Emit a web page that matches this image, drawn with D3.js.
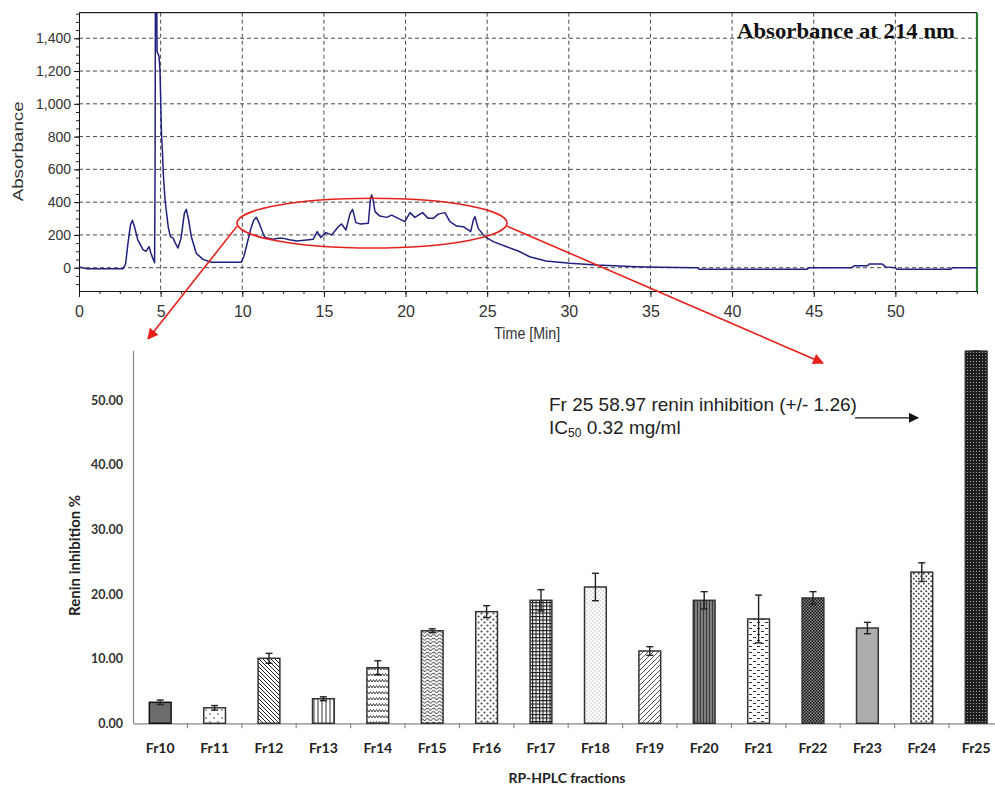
<!DOCTYPE html>
<html>
<head>
<meta charset="utf-8">
<script src="https://cdn.jsdelivr.net/npm/d3@7"></script>
<style>
  html, body { margin: 0; padding: 0; background: #fff; }
  svg { display: block; }
</style>
</head>
<body>
<div id="chart"></div>
<script>
// RP-HPLC chromatogram (absorbance at 214 nm)
const chromTime = [0, 0.5, 2.7, 2.85, 3.0, 3.15, 3.27, 3.4, 3.6, 3.92, 4.1, 4.29, 4.4, 4.55, 4.63, 4.66, 4.68, 4.76,
  4.78, 4.9, 4.96, 5.05, 5.12, 5.16, 5.27, 5.47, 5.6, 5.76, 5.9, 6.06, 6.25, 6.45, 6.57, 6.7, 6.88, 7.18, 7.59, 8.1,
  9.94, 10.1, 10.25, 10.5, 10.7, 10.86, 11.0, 11.27, 11.39, 11.68, 11.9, 12.2, 12.51, 12.9, 13.33, 13.94, 14.34,
  14.59, 14.8, 15.12, 15.47, 15.88, 16.08, 16.35, 16.6, 16.76, 16.96, 17.25, 17.72, 17.85, 17.92, 18.0, 18.13,
  18.43, 18.84, 19.15, 19.55, 19.96, 20.27, 20.57, 21.04, 21.39, 21.7, 22.0, 22.41, 22.72, 23.13, 23.54, 23.99,
  24.15, 24.25, 24.45, 24.86, 25.37, 26.19, 26.9, 27.6, 28.6, 30.07, 31.7, 34.15, 35.6, 37.9, 38.0, 44.6, 44.7,
  47.3, 47.5, 48.3, 48.4, 49.2, 49.4, 50.0, 50.1, 53.4, 53.5, 55];
const chromAbs = [5, -6, -6, 20, 150, 260, 290, 250, 170, 110, 100, 128, 90, 50, 30, 600, 1620, 1620,
  1320, 1290, 1206, 820, 690, 576, 413, 245, 190, 181, 150, 120, 180, 330, 356, 300, 189, 88, 51, 33,
  33, 70, 128, 230, 290, 307, 280, 210, 185, 178, 173, 180, 179, 170, 163, 169, 173,
  220, 185, 214, 200, 250, 267, 230, 330, 356, 275, 267, 271, 420, 444, 420, 342,
  315, 307, 321, 301, 281, 336, 307, 336, 301, 301, 327, 336, 281, 254, 250, 220,
  290, 311, 240, 189, 159, 128, 102, 67, 41, 27, 16, 6, 2, 0, -10, -10, 0,
  0, 12, 12, 22, 22, 5, 0, -10, -10, 0, 0];
const timeTicks = [0, 5, 10, 15, 20, 25, 30, 35, 40, 45, 50];
const absTicks = [0, 200, 400, 600, 800, 1000, 1200, 1400];

// Renin inhibition of the fractions
const fractions = ['Fr10', 'Fr11', 'Fr12', 'Fr13', 'Fr14', 'Fr15', 'Fr16', 'Fr17',
  'Fr18', 'Fr19', 'Fr20', 'Fr21', 'Fr22', 'Fr23', 'Fr24', 'Fr25'];
const inhibition = [3.25, 2.4, 10.06, 3.8, 8.6, 14.33, 17.28, 19.04, 21.1, 11.19, 19.04, 16.15, 19.4, 14.75, 23.4, 58.97];
const inhibitionErr = [0.35, 0.35, 0.77, 0.3, 1.08, 0.3, 0.93, 1.65, 2.12, 0.67, 1.34, 3.7, 0.98, 0.88, 1.45, 1.26];
const inhibitionTicks = [0, 10, 20, 30, 40, 50];

const W = 995, H = 787;
const svg = d3.select('#chart').append('svg').attr('width', W).attr('height', H);
const defs = svg.append('defs');

// ---------- top chart: chromatogram ----------
const boxT = { left: 79, right: 977, top: 12.7, bottom: 291 };
const xT = d3.scaleLinear().domain([0, 55]).range([boxT.left, boxT.right]);
const yT = d3.scaleLinear().domain([-142.2, 1556]).range([boxT.bottom, boxT.top]);

defs.append('clipPath').attr('id', 'clip-top').append('rect')
  .attr('x', boxT.left).attr('y', boxT.top)
  .attr('width', boxT.right - boxT.left).attr('height', boxT.bottom - boxT.top);

const gTop = svg.append('g');
const grid = gTop.append('g').attr('stroke', '#4a4a4a').attr('stroke-dasharray', '4,3').attr('stroke-width', 1);
grid.selectAll('line.h').data(absTicks).join('line').attr('class', 'h')
  .attr('x1', boxT.left).attr('x2', boxT.right)
  .attr('y1', d => yT(d)).attr('y2', d => yT(d));
grid.selectAll('line.v').data(timeTicks.filter(d => d > 0)).join('line').attr('class', 'v')
  .attr('x1', d => xT(d)).attr('x2', d => xT(d))
  .attr('y1', boxT.top).attr('y2', boxT.bottom);

const tickFont = 'Arial, "Liberation Sans", sans-serif';

// minor ticks
gTop.append('g').attr('transform', `translate(${boxT.left},0)`)
  .call(d3.axisLeft(yT).tickValues(d3.range(-100, 1551, 50)).tickSize(3).tickFormat(''))
  .call(g => g.select('.domain').remove())
  .selectAll('line').attr('stroke', '#222');
gTop.append('g').attr('transform', `translate(0,${boxT.bottom})`)
  .call(d3.axisBottom(xT).tickValues(d3.range(0, 55.01, 1.25)).tickSize(3).tickFormat(''))
  .call(g => g.select('.domain').remove())
  .selectAll('line').attr('stroke', '#222');

const yAxisTop = gTop.append('g').attr('transform', `translate(${boxT.left},0)`)
  .call(d3.axisLeft(yT).tickValues(absTicks).tickSize(5).tickPadding(3).tickFormat(d3.format(',')).tickSizeOuter(0));
yAxisTop.selectAll('text').attr('font-family', tickFont).attr('font-size', 14).attr('fill', '#333');
yAxisTop.selectAll('line, path').attr('stroke', '#111');

const xAxisTop = gTop.append('g').attr('transform', `translate(0,${boxT.bottom})`)
  .call(d3.axisBottom(xT).tickValues(timeTicks).tickSize(6).tickPadding(9).tickSizeOuter(0));
xAxisTop.selectAll('text').attr('font-family', tickFont).attr('font-size', 16).attr('fill', '#333');
xAxisTop.selectAll('line, path').attr('stroke', '#111');

// frame
gTop.append('line').attr('x1', boxT.left).attr('x2', boxT.right).attr('y1', boxT.top).attr('y2', boxT.top)
  .attr('stroke', '#222').attr('stroke-width', 1.2);
gTop.append('line').attr('x1', boxT.right).attr('x2', boxT.right).attr('y1', boxT.top).attr('y2', boxT.bottom)
  .attr('stroke', '#2e7a30').attr('stroke-width', 2.2);

const chromData = chromTime.map((t, i) => [t, chromAbs[i]]);
gTop.append('path')
  .datum(chromData)
  .attr('clip-path', 'url(#clip-top)')
  .attr('fill', 'none')
  .attr('stroke', '#20207e')
  .attr('stroke-width', 1.5)
  .attr('stroke-linejoin', 'round')
  .attr('d', d3.line().x(d => xT(d[0])).y(d => yT(d[1])));

gTop.append('text')
  .attr('x', 737).attr('y', 38)
  .attr('font-family', '"Liberation Serif", "Times New Roman", serif')
  .attr('font-weight', 'bold').attr('font-size', 21).attr('fill', '#111')
  .attr('textLength', 218).attr('lengthAdjust', 'spacingAndGlyphs')
  .text('Absorbance at 214 nm');

gTop.append('text')
  .attr('transform', `translate(23,${yT(710)}) rotate(-90)`)
  .attr('text-anchor', 'middle')
  .attr('font-family', tickFont).attr('font-size', 15).attr('fill', '#333')
  .attr('textLength', 100).attr('lengthAdjust', 'spacingAndGlyphs')
  .text('Absorbance');

gTop.append('text')
  .attr('x', xT(27.45)).attr('y', 339)
  .attr('text-anchor', 'middle')
  .attr('font-family', tickFont).attr('font-size', 16).attr('fill', '#333')
  .attr('textLength', 66).attr('lengthAdjust', 'spacingAndGlyphs')
  .text('Time [Min]');

// ---------- bottom chart: renin inhibition ----------
const boxB = { left: 133, right: 1003.4, top: 350.6, bottom: 723.3 };
const xB = d3.scaleBand().domain(fractions).range([boxB.left, boxB.right]).paddingInner(0.6).paddingOuter(0.3);
const yB = d3.scaleLinear().domain([0, 57.7]).range([boxB.bottom, boxB.top]).clamp(true);

// fill patterns
function pattern(id, w, h, bg, draw) {
  const p = defs.append('pattern').attr('id', id).attr('patternUnits', 'userSpaceOnUse')
    .attr('width', w).attr('height', h);
  p.append('rect').attr('width', w).attr('height', h).attr('fill', bg);
  draw(p);
}
const dots = (p, pts, r, c) => pts.forEach(([x, y]) => p.append('circle').attr('cx', x).attr('cy', y).attr('r', r).attr('fill', c));
const stroke = (p, d, c, w) => p.append('path').attr('d', d).attr('stroke', c).attr('stroke-width', w).attr('fill', 'none');

pattern('p10', 4, 4, '#6c6c6c', () => {});
pattern('p11', 8, 8, '#fff', p => dots(p, [[2, 2], [6, 6]], 0.8, '#333'));
pattern('p12', 4, 4, '#fff', p => stroke(p, 'M0,0L4,4M-1,3L1,5M3,-1L5,1', '#222', 1));
pattern('p13', 4, 4, '#fff', p => stroke(p, 'M2,0V4', '#333', 1));
pattern('p14', 6, 6, '#fff', p => stroke(p, 'M0,4L1.5,1.5L3,4L4.5,1.5L6,4', '#333', 0.9));
pattern('p15', 6, 3.5, '#fff', p => stroke(p, 'M0,2Q1.5,0 3,2T6,2', '#333', 0.9));
pattern('p16', 6, 6, '#fff', p => dots(p, [[1.5, 1.5], [4.5, 4.5]], 1.1, '#555'));
pattern('p17', 3.5, 3.5, '#fff', p => stroke(p, 'M0,0.5H3.5M0.5,0V3.5', '#1a1a1a', 1.2));
pattern('p18', 4, 4, '#fff', p => dots(p, [[1, 1], [3, 3]], 0.6, '#888'));
pattern('p19', 5, 5, '#fff', p => stroke(p, 'M0,5L5,0M-1,1L1,-1M4,6L6,4', '#555', 1));
pattern('p20', 3, 3, '#7e7e7e', p => stroke(p, 'M1.5,0V3', '#3a3a3a', 1));
pattern('p21', 8, 6, '#fff', p => stroke(p, 'M1,1.5H4M5,4.5H8', '#333', 1.2));
pattern('p22', 3, 3, '#8a8a8a', p => {
  p.append('rect').attr('width', 1.5).attr('height', 1.5).attr('fill', '#111');
  p.append('rect').attr('x', 1.5).attr('y', 1.5).attr('width', 1.5).attr('height', 1.5).attr('fill', '#111');
});
pattern('p23', 2, 2, '#b4b4b4', p => stroke(p, 'M1,0V2', '#a0a0a0', 0.7));
pattern('p24', 5, 5, '#fff', p => dots(p, [[1.25, 1.25], [3.75, 3.75]], 1, '#444'));
pattern('p25', 3, 3, '#1e1e1e', p => dots(p, [[1.5, 1.5]], 0.55, '#bbb'));

defs.append('clipPath').attr('id', 'clip-bot').append('rect')
  .attr('x', 0).attr('y', boxB.top).attr('width', W).attr('height', H - boxB.top);

const gBot = svg.append('g');
const lab = 'Lato, "Open Sans", sans-serif';

const yAxisBot = gBot.append('g').attr('transform', `translate(${boxB.left},0)`)
  .call(d3.axisLeft(yB).tickValues(inhibitionTicks).tickSize(0).tickPadding(10).tickFormat(d3.format('.2f')));
yAxisBot.select('.domain').attr('stroke', '#888').attr('stroke-width', 1.2);
yAxisBot.selectAll('text').attr('font-family', lab).attr('font-weight', 'bold').attr('font-size', 12.5).attr('fill', '#333');

const xAxisBot = gBot.append('g').attr('transform', `translate(0,${boxB.bottom})`)
  .call(d3.axisBottom(xB).tickSize(0).tickPadding(20));
xAxisBot.select('.domain').attr('stroke', '#888').attr('stroke-width', 1.2);
xAxisBot.selectAll('text').attr('font-family', lab).attr('font-weight', 'bold').attr('font-size', 14).attr('fill', '#222');

// category boundary ticks
gBot.append('g').selectAll('line').data(d3.range(1, fractions.length)).join('line')
  .attr('x1', i => boxB.left + i * xB.step()).attr('x2', i => boxB.left + i * xB.step())
  .attr('y1', boxB.bottom).attr('y2', boxB.bottom + 5)
  .attr('stroke', '#888').attr('stroke-width', 1.2);

const bars = gBot.append('g').attr('clip-path', 'url(#clip-bot)');
bars.selectAll('rect').data(fractions).join('rect')
  .attr('x', d => xB(d))
  .attr('y', (d, i) => yB(inhibition[i]))
  .attr('width', xB.bandwidth())
  .attr('height', (d, i) => yB(0) - yB(inhibition[i]))
  .attr('fill', d => `url(#p${d.slice(2)})`)
  .attr('stroke', (d, i) => i === 0 ? '#111' : '#333')
  .attr('stroke-width', 1.5);

const err = bars.append('g').attr('stroke', '#222').attr('stroke-width', 1.4);
fractions.forEach((f, i) => {
  const cx = xB(f) + xB.bandwidth() / 2;
  const y1 = yB(inhibition[i] + inhibitionErr[i]), y0 = yB(inhibition[i] - inhibitionErr[i]);
  err.append('line').attr('x1', cx).attr('x2', cx).attr('y1', y1).attr('y2', y0);
  err.append('line').attr('x1', cx - 3.5).attr('x2', cx + 3.5).attr('y1', y1).attr('y2', y1);
  err.append('line').attr('x1', cx - 3.5).attr('x2', cx + 3.5).attr('y1', y0).attr('y2', y0);
});

gBot.append('text')
  .attr('transform', `translate(80,${yB(26)}) rotate(-90)`)
  .attr('text-anchor', 'middle')
  .attr('font-family', lab).attr('font-weight', 'bold').attr('font-size', 15).attr('fill', '#222')
  .text('Renin inhibition %');

gBot.append('text')
  .attr('x', 567).attr('y', 783)
  .attr('text-anchor', 'middle')
  .attr('font-family', lab).attr('font-weight', 'bold').attr('font-size', 14).attr('fill', '#222')
  .text('RP-HPLC fractions');

// annotation for Fr 25
const note = gBot.append('g').attr('font-family', tickFont).attr('font-size', 19).attr('fill', '#222');
note.append('text').attr('x', 549).attr('y', 410.5).text('Fr 25 58.97 renin inhibition (+/- 1.26)');
const ic = note.append('text').attr('x', 549).attr('y', 433.5);
ic.append('tspan').text('IC');
ic.append('tspan').attr('font-size', 12).attr('dy', 3).text('50');
ic.append('tspan').attr('dy', -3).text(' 0.32 mg/ml');

defs.append('marker').attr('id', 'head-black').attr('viewBox', '0 0 10 10').attr('refX', 9).attr('refY', 5)
  .attr('markerWidth', 15).attr('markerHeight', 10).attr('markerUnits', 'userSpaceOnUse').attr('orient', 'auto')
  .append('path').attr('d', 'M0,0L10,5L0,10Z').attr('fill', '#111');
gBot.append('line').attr('x1', 855).attr('x2', 918).attr('y1', yB(47.3)).attr('y2', yB(47.3))
  .attr('stroke', '#111').attr('stroke-width', 1.3).attr('marker-end', 'url(#head-black)');

// ---------- red zoom-in ellipse and arrows ----------
defs.append('marker').attr('id', 'head-red').attr('viewBox', '0 0 10 10').attr('refX', 9).attr('refY', 5)
  .attr('markerWidth', 15).attr('markerHeight', 11).attr('markerUnits', 'userSpaceOnUse').attr('orient', 'auto')
  .append('path').attr('d', 'M0,0L10,5L0,10Z').attr('fill', '#e8201c');

const ell = { t: 17.95, a: 272, rt: 8.27, ra: 152 };
const ecx = xT(ell.t), ecy = yT(ell.a);
const erx = xT(ell.t + ell.rt) - ecx, ery = ecy - yT(ell.a + ell.ra);
const red = svg.append('g').attr('stroke', '#e8201c').attr('fill', 'none').attr('stroke-width', 1.6);
red.append('ellipse').attr('cx', ecx).attr('cy', ecy).attr('rx', erx).attr('ry', ery);
red.append('line').attr('x1', ecx - erx).attr('y1', ecy + 3).attr('x2', 148).attr('y2', 339)
  .attr('marker-end', 'url(#head-red)');
red.append('line').attr('x1', ecx + erx).attr('y1', ecy + 3).attr('x2', 823).attr('y2', 363)
  .attr('marker-end', 'url(#head-red)');
</script>
</body>
</html>
